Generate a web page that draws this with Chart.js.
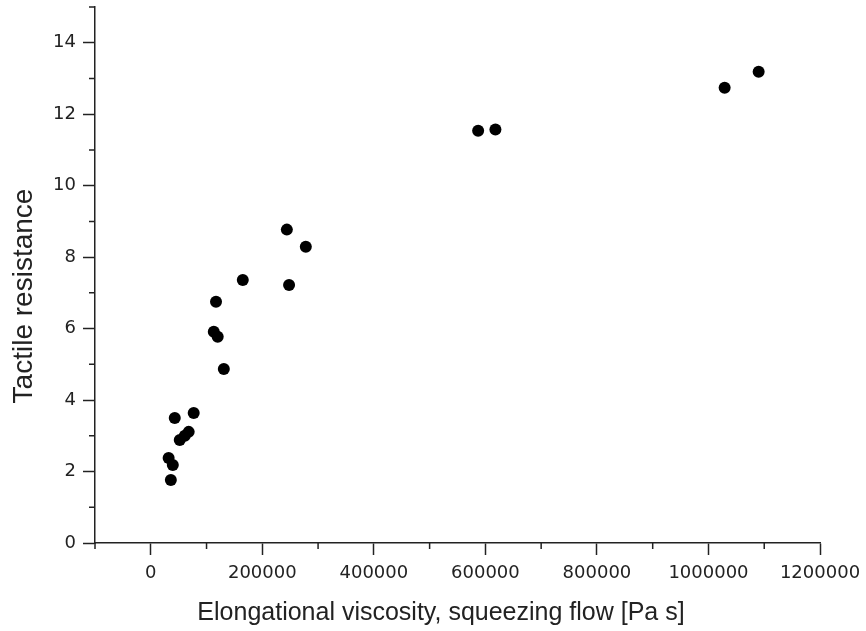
<!DOCTYPE html>
<html>
<head>
<meta charset="utf-8">
<script src="https://cdn.jsdelivr.net/npm/chart.js@4"></script>
<style>
    html, body { margin: 0; padding: 0; background: #fff; }
    #wrap { width: 866px; height: 631px; }
</style>
</head>
<body>
<div id="wrap"><canvas id="chart"></canvas></div>
<script>
// data
const viscosity = [1090000, 1029000, 618000, 587000, 244000, 278000, 165000, 248000,
    117000, 113000, 120000, 131000, 43000, 77000, 68000, 61000, 52000, 32000, 39500, 36000];
const resistance = [13.19, 12.74, 11.57, 11.54, 8.77, 8.29, 7.36, 7.22,
    6.75, 5.91, 5.77, 4.87, 3.50, 3.64, 3.11, 3.00, 2.88, 2.38, 2.18, 1.76];

const xTitle = 'Elongational viscosity, squeezing flow [Pa s]';
const yTitle = 'Tactile resistance';

const axisColor = '#222';
const tickFont = { family: 'DejaVu Sans', size: 18 };

// 次刻度 (minor ticks) and axis titles
const minorTicks = {
    id: 'minorTicks',
    afterDraw(chart) {
        const ctx = chart.ctx;
        const xs = chart.scales.x, ys = chart.scales.y;
        ctx.save();
        ctx.strokeStyle = axisColor;
        ctx.lineWidth = 1.5;
        ctx.beginPath();
        xs.ticks.forEach(t => {
            if (t.value % 200000 === 0) return;
            const px = xs.getPixelForValue(t.value);
            ctx.moveTo(px, xs.top);
            ctx.lineTo(px, xs.top + 6);
        });
        ys.ticks.forEach(t => {
            if (t.value % 2 === 0) return;
            const py = ys.getPixelForValue(t.value);
            ctx.moveTo(ys.right, py);
            ctx.lineTo(ys.right - 6, py);
        });
        ctx.stroke();

        ctx.fillStyle = axisColor;
        ctx.textAlign = 'center';
        ctx.textBaseline = 'alphabetic';
        ctx.font = '25px "Liberation Sans", Arial, sans-serif';
        ctx.fillText(xTitle, 441, 620);
        ctx.font = '28px "Liberation Sans", Arial, sans-serif';
        ctx.translate(32, 296);
        ctx.rotate(-Math.PI / 2);
        ctx.fillText(yTitle, 0, 0);
        ctx.restore();
    }
};

const points = viscosity.map((v, i) => ({ x: v, y: resistance[i] }));

new Chart(document.getElementById('chart'), {
    type: 'scatter',
    data: {
        datasets: [{
            data: points,
            backgroundColor: '#000',
            borderWidth: 0,
            pointRadius: 6,
            pointHoverRadius: 6
        }]
    },
    options: {
        responsive: true,
        maintainAspectRatio: false,
        animation: false,
        layout: { padding: { top: 7, right: 46, left: 0, bottom: 0 } },
        plugins: {
            legend: { display: false },
            tooltip: { enabled: false }
        },
        scales: {
            x: {
                type: 'linear',
                min: -100000,
                max: 1200000,
                afterFit: s => { s.height = 88; s.paddingLeft = 0; s.paddingRight = 0; },
                border: { color: axisColor, width: 1.5 },
                grid: {
                    drawOnChartArea: false,
                    tickLength: 12,
                    tickWidth: 1.5,
                    tickColor: c => (c.tick && c.tick.value % 200000 === 0) ? axisColor : 'transparent'
                },
                ticks: {
                    stepSize: 100000,
                    color: axisColor,
                    font: tickFont,
                    padding: 8,
                    maxRotation: 0,
                    autoSkip: false,
                    callback: v => (v % 200000 === 0 && v >= 0) ? String(v) : ''
                }
            },
            y: {
                min: 0,
                max: 15,
                afterFit: s => { s.width = 95; s.paddingTop = 0; s.paddingBottom = 0; },
                border: { color: axisColor, width: 1.5 },
                grid: {
                    drawOnChartArea: false,
                    tickLength: 12,
                    tickWidth: 1.5,
                    tickColor: c => (c.tick && c.tick.value % 2 === 0) ? axisColor : 'transparent'
                },
                ticks: {
                    stepSize: 1,
                    color: axisColor,
                    font: tickFont,
                    padding: 7,
                    autoSkip: false,
                    callback: v => (v % 2 === 0) ? String(v) : ''
                }
            }
        }
    },
    plugins: [minorTicks]
});
</script>
</body>
</html>
